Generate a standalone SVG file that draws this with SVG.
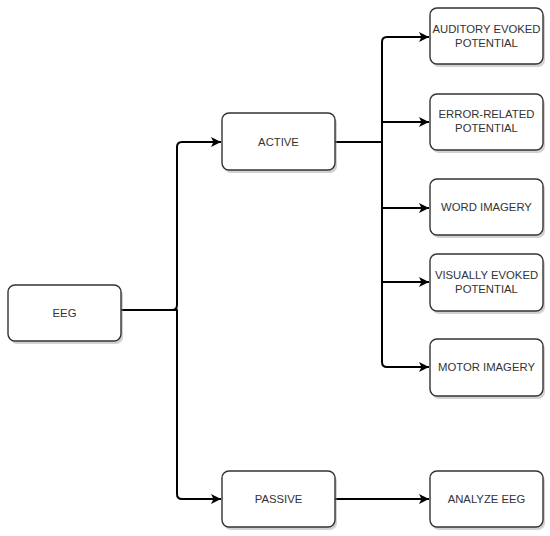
<svg xmlns="http://www.w3.org/2000/svg" width="550" height="536" viewBox="0 0 550 536">
<defs>
<style>
.box{fill:#ffffff;stroke:#333333;stroke-width:1.4}
.sh{fill:#9a9a9a;opacity:0.45}
.t{font-family:"Liberation Sans",Arial,sans-serif;font-size:11.3px;fill:#333333;text-anchor:middle}
.c{fill:none;stroke:#000000;stroke-width:2;stroke-linejoin:round}
</style>
<marker id="ah" markerWidth="12" markerHeight="12" refX="11" refY="6" orient="auto" markerUnits="userSpaceOnUse">
<path d="M1,1 L11,6 L1,11 L3.5,6 Z" fill="#000000"/>
</marker>
</defs>
<rect width="550" height="536" fill="#ffffff"/>
<g id="connectors">
<path class="c" d="M121,310 H172 Q177,310 177,305 V147 Q177,142 182,142 H221" marker-end="url(#ah)"/>
<path class="c" d="M121,310 H177 V494 Q177,499 182,499 H221" marker-end="url(#ah)"/>
<path class="c" d="M335,142 H382 V42 Q382,37 387,37 H429" marker-end="url(#ah)"/>
<path class="c" d="M382,122 H429" marker-end="url(#ah)"/>
<path class="c" d="M382,142 V208 H429" marker-end="url(#ah)"/>
<path class="c" d="M382,208 V282 H429" marker-end="url(#ah)"/>
<path class="c" d="M382,282 V362 Q382,367 387,367 H429" marker-end="url(#ah)"/>
<path class="c" d="M335,499 H429" marker-end="url(#ah)"/>
</g>
<g id="eeg">
<rect class="sh" x="10" y="288" width="113" height="56" rx="7"/>
<rect class="box" x="8" y="285" width="113" height="56" rx="7"/>
<text class="t" x="64.5" y="317">EEG</text>
</g>
<g id="active">
<rect class="sh" x="224" y="116" width="113" height="57" rx="7"/>
<rect class="box" x="222" y="113" width="113" height="57" rx="7"/>
<text class="t" x="278.5" y="145.5">ACTIVE</text>
</g>
<g id="passive">
<rect class="sh" x="224" y="474" width="113" height="56" rx="7"/>
<rect class="box" x="222" y="471" width="113" height="56" rx="7"/>
<text class="t" x="278.5" y="503">PASSIVE</text>
</g>
<g id="auditory">
<rect class="sh" x="432" y="11" width="113" height="56" rx="7"/>
<rect class="box" x="430" y="8" width="113" height="56" rx="7"/>
<text class="t" x="486.5" y="33">AUDITORY EVOKED</text>
<text class="t" x="486.5" y="47">POTENTIAL</text>
</g>
<g id="error">
<rect class="sh" x="432" y="97" width="113" height="56" rx="7"/>
<rect class="box" x="430" y="94" width="113" height="56" rx="7"/>
<text class="t" x="486.5" y="118">ERROR-RELATED</text>
<text class="t" x="486.5" y="132">POTENTIAL</text>
</g>
<g id="word">
<rect class="sh" x="432" y="182" width="113" height="56" rx="7"/>
<rect class="box" x="430" y="179" width="113" height="56" rx="7"/>
<text class="t" x="486.5" y="211">WORD IMAGERY</text>
</g>
<g id="visual">
<rect class="sh" x="432" y="257" width="113" height="57" rx="7"/>
<rect class="box" x="430" y="254" width="113" height="57" rx="7"/>
<text class="t" x="486.5" y="279">VISUALLY EVOKED</text>
<text class="t" x="486.5" y="293">POTENTIAL</text>
</g>
<g id="motor">
<rect class="sh" x="432" y="342" width="113" height="57" rx="7"/>
<rect class="box" x="430" y="339" width="113" height="57" rx="7"/>
<text class="t" x="486.5" y="371">MOTOR IMAGERY</text>
</g>
<g id="analyze">
<rect class="sh" x="432" y="474" width="113" height="56" rx="7"/>
<rect class="box" x="430" y="471" width="113" height="56" rx="7"/>
<text class="t" x="486.5" y="503">ANALYZE EEG</text>
</g>
</svg>
